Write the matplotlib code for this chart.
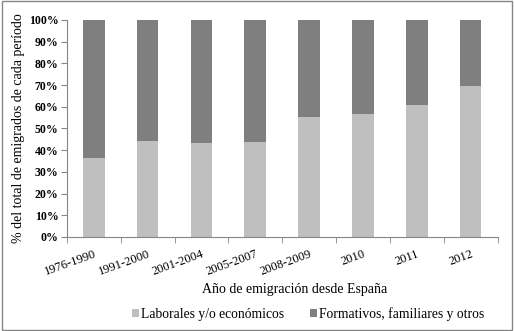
import numpy as np
import matplotlib
matplotlib.use("Agg")
from matplotlib import pyplot as plt
from matplotlib.ticker import FuncFormatter, FixedLocator

periodos = ["1976-1990", "1991-2000", "2001-2004", "2005-2007", "2008-2009", "2010", "2011", "2012"]
laborales = [36.5, 44.0, 43.2, 43.6, 55.3, 56.6, 61.0, 69.6]
formativos = [100 - v for v in laborales]

plt.rcParams["font.family"] = ["Liberation Serif", "DejaVu Serif"]

fig = plt.figure(figsize=(5.14, 3.31), dpi=100)
ax = fig.add_axes([0.130, 0.284, 0.838, 0.656])

x = np.arange(len(periodos))
ax.bar(x, laborales, width=0.4, color="#bfbfbf", label="Laborales y/o económicos")
ax.bar(x, formativos, width=0.4, bottom=laborales, color="#7f7f7f", label="Formativos, familiares y otros")

ax.set_xlim(-0.5, len(periodos) - 0.5)
ax.set_ylim(0, 100)
ax.set_yticks(np.arange(0, 101, 10))
ax.yaxis.set_major_formatter(FuncFormatter(lambda v, p: "%d%%" % v))
ax.set_xticks(x)
ax.set_xticklabels(periodos, rotation=20, ha="right", va="top", rotation_mode="anchor")
ax.tick_params(axis="x", which="major", length=0, labelsize=9, pad=8)
ax.xaxis.set_minor_locator(FixedLocator(np.arange(-0.5, len(periodos), 1)))
ax.tick_params(axis="x", which="minor", length=4, color="#868686")
ax.tick_params(axis="y", length=4, color="#868686", labelsize=8.5, pad=2)
for lbl in ax.get_yticklabels():
    lbl.set_fontweight("bold")

for s in ["top", "right"]:
    ax.spines[s].set_visible(False)
for s in ["left", "bottom"]:
    ax.spines[s].set_color("#868686")

ax.set_ylabel("% del total de emigrados de cada período", fontsize=10, labelpad=3)
fig.text(0.574, 0.124, "Año de emigración desde España", ha="center", va="center", fontsize=10)
fig.legend(loc="center", bbox_to_anchor=(0.599, 0.051), ncol=2, frameon=False,
           fontsize=9.8, handlelength=0.5, handleheight=0.5, handletextpad=0.15, columnspacing=1.9)

fig.patches.append(plt.Rectangle((0.003, 0.003), 0.994, 0.994, transform=fig.transFigure,
                                 fill=False, edgecolor="#868686", linewidth=1))

fig.savefig("out.png", dpi=100)
